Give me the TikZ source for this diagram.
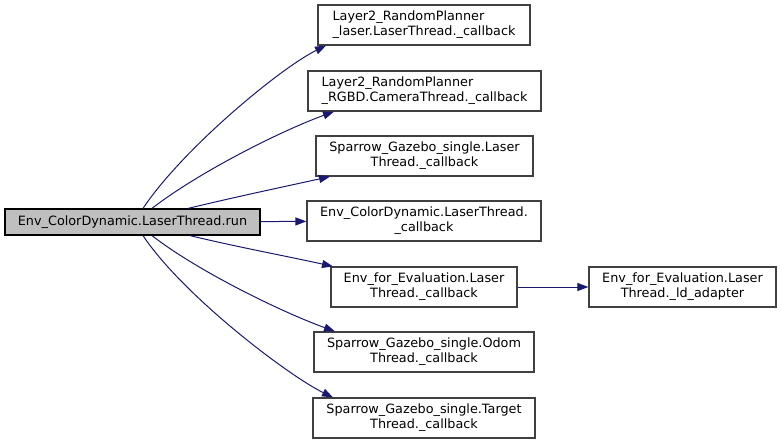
\documentclass[tikz,border=0pt]{standalone}
\usepackage{fontspec}
\setmainfont{DejaVu Sans}
\usetikzlibrary{arrows.meta}
\definecolor{edge-blue}{HTML}{191970}
\definecolor{box-grey}{HTML}{404040}
\definecolor{root-bg}{HTML}{BFBFBF}

\begin{document}
\begin{tikzpicture}[x=1pt, y=-1pt,
      every node/.style={font=\fontsize{12.8}{15}\selectfont, inner sep=2pt},
      fn/.style={draw=box-grey, fill=white, line width=1.2pt, minimum height=40pt, align=center},
      call/.style={-{Triangle[length=11pt, width=8pt]}, edge-blue, line width=1pt}]
    \useasboundingbox (0,0) rectangle (781,444);
    \node[draw=black, fill=root-bg, line width=1.2pt, minimum width=255pt,
          minimum height=26pt] (RUN) at (132.5,222) {Env\_ColorDynamic.LaserThread.run};
    \node[fn, minimum width=212pt, align=left] (L2L) at (424,25)
          {Layer2\_RandomPlanner\\\_laser.LaserThread.\_callback};
    \node[fn, minimum width=233pt, align=left] (L2R) at (424.5,91)
          {Layer2\_RandomPlanner\\\_RGBD.CameraThread.\_callback};
    \node[fn, minimum width=217pt] (SGL) at (424.5,156)
          {Sparrow\_Gazebo\_single.Laser\\Thread.\_callback};
    \node[fn, minimum width=234pt] (ECD) at (424,221)
          {Env\_ColorDynamic.LaserThread.\\\_callback};
    \node[fn, minimum width=186pt] (EFE) at (424,287)
          {Env\_for\_Evaluation.Laser\\Thread.\_callback};
    \node[fn, minimum width=220pt] (SGO) at (424,352)
          {Sparrow\_Gazebo\_single.Odom\\Thread.\_callback};
    \node[fn, minimum width=222pt] (SGT) at (424,418)
          {Sparrow\_Gazebo\_single.Target\\Thread.\_callback};
    \node[fn, minimum width=187pt] (LDA) at (682.5,287)
          {Env\_for\_Evaluation.Laser\\Thread.\_ld\_adapter};
    \draw[call] ([xshift=10.5pt]RUN.north) .. controls +(40,-60) and +(-45,22) .. ([xshift=-98pt]L2L.south);
    \draw[call] ([xshift=19.5pt]RUN.north) .. controls +(45,-35) and +(-55,20) .. ([xshift=-90.5pt]L2R.south);
    \draw[call] ([xshift=55.5pt]RUN.north) .. controls +(50,-12) and +(-50,11) .. ([xshift=-94.5pt]SGL.south);
    \draw[call] (RUN) -- (ECD);
    \draw[call] ([xshift=57.5pt]RUN.south) .. controls +(50,12) and +(-50,-11) .. ([xshift=-91pt]EFE.north);
    \draw[call] ([xshift=19.5pt]RUN.south) .. controls +(45,35) and +(-55,-20) .. ([xshift=-89pt]SGO.north);
    \draw[call] ([xshift=10.5pt]RUN.south) .. controls +(40,60) and +(-45,-22) .. ([xshift=-91pt]SGT.north);
    \draw[call] (EFE) -- (LDA);
  \end{tikzpicture}
\end{document}
